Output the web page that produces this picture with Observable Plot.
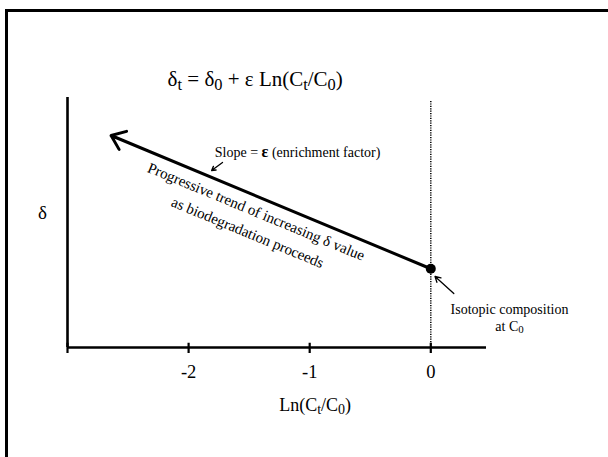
<!DOCTYPE html>
<html>
<head>
<meta charset="utf-8">
<script src="https://cdn.jsdelivr.net/npm/d3@7"></script>
<script src="https://cdn.jsdelivr.net/npm/@observablehq/plot@0.6"></script>
<style>
  body { margin: 0; background: #fff; }
  #wrap { position: relative; width: 608px; height: 457px; overflow: hidden; background: #fff; }
  #frame { position: absolute; left: 5px; top: 9px; width: 700px; height: 600px; border: 3px solid #000; box-sizing: border-box; }
  #chart { position: absolute; left: 0; top: 0; }
  #chart svg, #chart svg text { font-family: "Liberation Serif", "Times New Roman", serif !important; }
</style>
</head>
<body>
<div id="wrap"><div id="frame"></div><div id="chart"></div></div>
<script>
// ---- data ----
const lnRatio = [0, -2.64];        // Ln(Ct/C0): start (C0) and end of trend arrow
const deltaVal = [3.15, 8.48];     // δ at those points
const xTicks = [-3, -2, -1, 0];
const xTickLabels = ["-2", "-1", "0"];
const xTickLabelVals = [-2, -1, 0];
const xDomain = [-3, 0.46];
const yDomain = [0, 10];
const titleText = "δ_t = δ_0 + ε Ln(C_t/C_0)";
const xLabel = "Ln(C_t/C_0)";
const yLabel = "δ";
// annotations (anchor positions in data units)
const annotations = [
  {x: -1.10, y: 7.84, text: "Slope = *ε* (enrichment factor)"},
  {x: 0.65, y: 1.22, text: "Isotopic composition\nat C_0"}
];
const trendNote = {x: -1.47, y: 5.10, text: "Progressive trend of increasing δ value\nas biodegradation proceeds"};
const pointerArrows = [
  {x1: -1.72, y1: 7.40, x2: -1.81, y2: 7.08},
  {x1: 0.19, y1: 2.16, x2: 0.035, y2: 2.84}
];

const trend = [{x1: lnRatio[0], y1: deltaVal[0], x2: lnRatio[1], y2: deltaVal[1]}];
const origin = [{x: lnRatio[0], y: deltaVal[0]}];
const serif = "Liberation Serif";

const chart = Plot.plot({
  width: 608,
  height: 457,
  marginLeft: 67,
  marginRight: 122,
  marginTop: 97,
  marginBottom: 110,
  style: {fontFamily: serif, fontSize: "14px", background: "transparent", color: "#000"},
  x: {domain: xDomain, axis: null},
  y: {domain: yDomain, axis: null},
  marks: [
    // dotted reference line at Ln(Ct/C0)=0
    Plot.ruleX([0], {y1: 0, y2: 9.88, stroke: "#000", strokeWidth: 1.5, strokeDasharray: "1.2,1.2"}),
    // axes lines
    Plot.ruleY([0], {stroke: "#000", strokeWidth: 2.6}),
    Plot.ruleX([xDomain[0]], {y1: 0, y2: yDomain[1], stroke: "#000", strokeWidth: 2.6}),
    // ticks
    Plot.ruleX(xTicks, {y1: -0.24, y2: 0.17, stroke: "#000", strokeWidth: 2.2}),
    // tick labels
    Plot.text(xTickLabelVals, {x: d => d, y: 0, dy: 25, text: (d, i) => xTickLabels[i], fontSize: 18.5, fontFamily: serif, fill: "#000"}),
    // axis titles
    Plot.text([xLabel], {x: -0.955, y: 0, dy: 58, text: d => d, fontSize: 18, fontFamily: serif, fill: "#000"}),
    Plot.text([yLabel], {x: xDomain[0], y: 5.4, dx: -25, text: d => d, fontSize: 19, fontFamily: serif, fill: "#000"}),
    // title
    Plot.text([titleText], {x: -1.45, y: 10.72, text: d => d, fontSize: 21, fontFamily: serif, fill: "#000"}),
    // trend arrow
    Plot.arrow(trend, {x1: "x1", y1: "y1", x2: "x2", y2: "y2", stroke: "#000", strokeWidth: 3, headLength: 8, headAngle: 75}),
    Plot.dot(origin, {x: "x", y: "y", r: 5, fill: "#000"}),
    // pointer arrows
    Plot.arrow(pointerArrows, {x1: "x1", y1: "y1", x2: "x2", y2: "y2", stroke: "#000", strokeWidth: 1.3, headLength: 7, headAngle: 60}),
    // annotations
    Plot.text(annotations, {x: "x", y: "y", text: "text", fontSize: 14, lineHeight: 1.25, fontFamily: serif, fill: "#000"}),
    Plot.text([trendNote], {x: "x", y: "y", text: "text", fontSize: 15, rotate: 22.5, lineHeight: 1.5, fontFamily: serif, fill: "#000"})
  ]
});

// rich text: _x -> subscript, *s* -> bold
function richify(svg) {
  const ns = "http://www.w3.org/2000/svg";
  svg.querySelectorAll("text, tspan").forEach(el => {
    if (el.children.length) return;
    const s = el.textContent;
    if (!/[_*]/.test(s)) return;
    el.textContent = "";
    const re = /_(\w)|\*([^*]+)\*/g;
    let last = 0, m;
    while ((m = re.exec(s))) {
      if (m.index > last) el.appendChild(document.createTextNode(s.slice(last, m.index)));
      const t = document.createElementNS(ns, "tspan");
      if (m[1]) {
        t.setAttribute("baseline-shift", "-22%");
        t.setAttribute("font-size", "78%");
        t.textContent = m[1];
      } else {
        t.setAttribute("font-weight", "bold");
        t.setAttribute("font-size", "115%");
        t.textContent = m[2];
      }
      el.appendChild(t);
      last = re.lastIndex;
    }
    if (last < s.length) el.appendChild(document.createTextNode(s.slice(last)));
  });
}
richify(chart);
document.getElementById("chart").appendChild(chart);
</script>
</body>
</html>
